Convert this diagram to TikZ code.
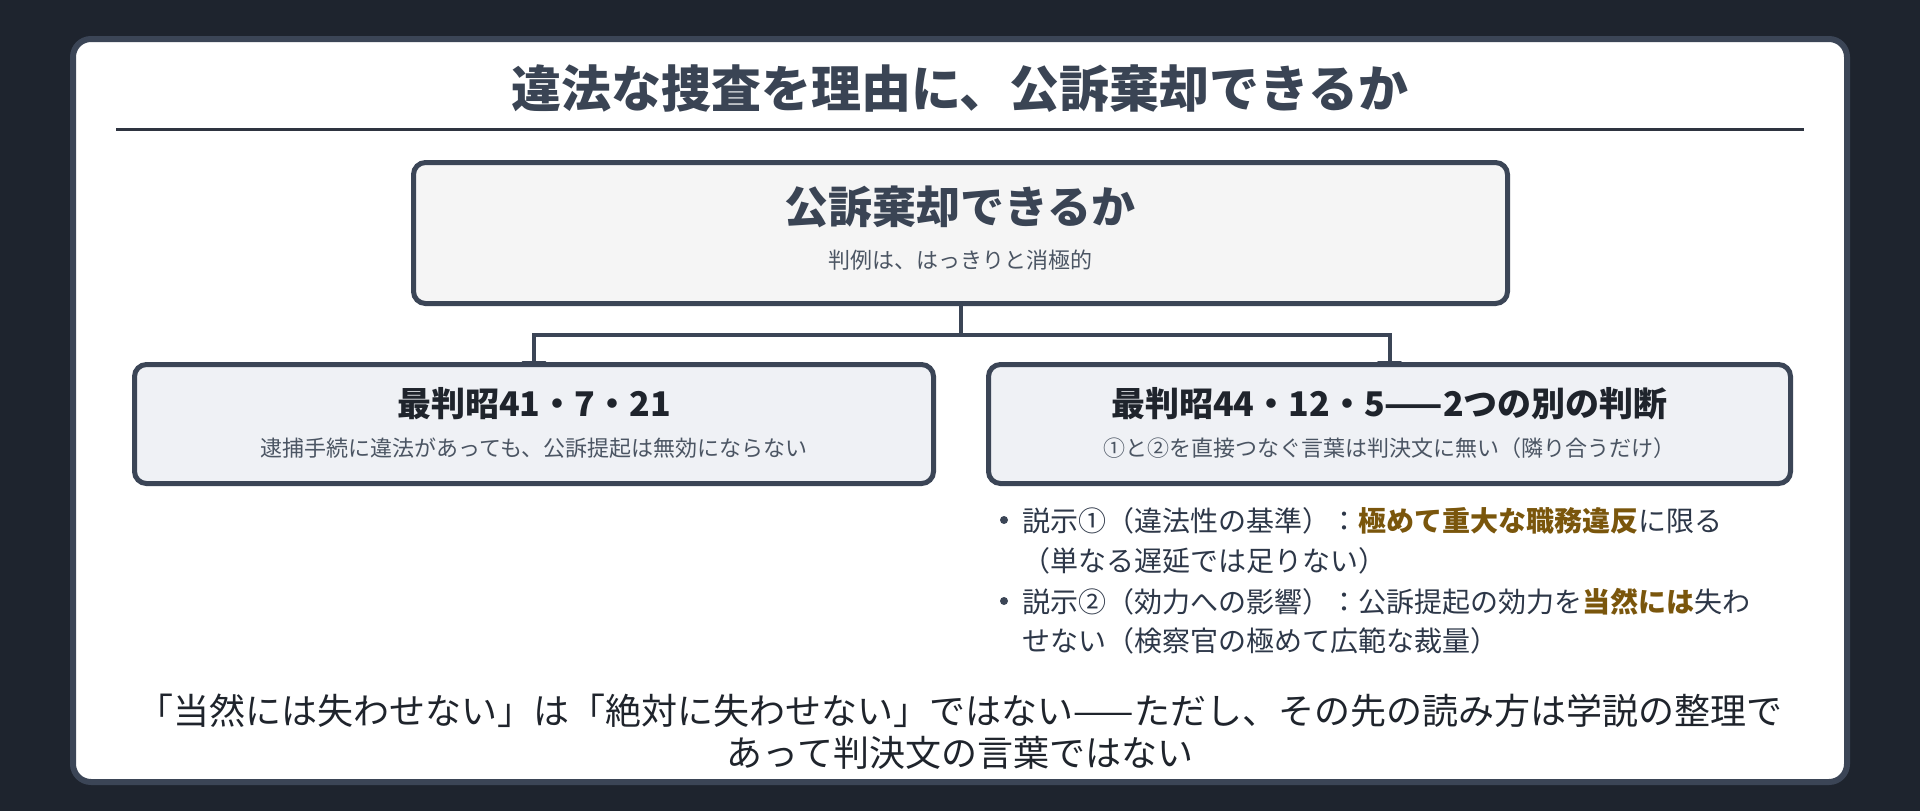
\documentclass[tikz,border=0pt]{standalone}
\usepackage{fontspec}
\setmainfont{Noto Sans CJK JP}
\usetikzlibrary{arrows.meta}
\pgfdeclarelayer{backlayer}
\pgfdeclarelayer{connlayer}
\pgfsetlayers{backlayer,connlayer,main}
\definecolor{pagebg}{HTML}{1E242E}
\definecolor{edge}{HTML}{3B4556}
\definecolor{rulec}{HTML}{2E3440}
\definecolor{titlec}{HTML}{3A4454}
\definecolor{darkc}{HTML}{1F242C}
\definecolor{subc}{HTML}{4B5563}
\definecolor{bodyc}{HTML}{2D3748}
\definecolor{hlc}{HTML}{7A560C}
\definecolor{mainfill}{HTML}{F5F5F5}
\definecolor{childfill}{HTML}{EFF1F5}
\newcommand{\fs}[1]{\fontsize{#1}{#1}\selectfont}
\newcommand{\hl}[1]{{\bfseries\color{hlc}#1}}
\begin{document}
\begin{tikzpicture}[x=1pt,y=-1pt,
  box/.style={draw=edge, line width=5pt, rounded corners=12pt, inner sep=0pt},
  conn/.style={draw=edge, line width=4pt, -{Triangle[width=24pt,length=12pt]}, shorten >=-11pt},
  txt/.style={inner sep=0pt, anchor=base},
  bodytxt/.style={inner sep=0pt, anchor=base west, text=bodyc, font=\fs{28}},
  bottomtxt/.style={inner sep=0pt, anchor=base, text=darkc, font=\fs{36}},
  bulletdot/.style={circle, fill=edge, minimum size=8pt, inner sep=0pt}]
\begin{pgfonlayer}{backlayer}
\fill[pagebg] (0,0) rectangle (1920,811);
\draw[edge, line width=6pt, fill=white, rounded corners=18pt] (73,39) rectangle (1847,782);
\end{pgfonlayer}
\useasboundingbox (0,0) rectangle (1920,811);
\node[txt, text=titlec, font=\fs{50}\bfseries] (title) at (960,107) {違法な捜査を理由に、公訴棄却できるか};
\draw[rulec, line width=3pt] (116,129.5) -- (1804,129.5);
% boxes
\node[box, fill=mainfill, minimum width=1094pt, minimum height=141pt] (mainbox) at (960.5,233) {};
\node[box, fill=childfill, minimum width=799pt, minimum height=119pt] (left) at (534,424) {};
\node[box, fill=childfill, minimum width=802pt, minimum height=119pt] (right) at (1389.5,424) {};
\coordinate (j) at (960.5,335);
\begin{pgfonlayer}{connlayer}
\draw[conn] (mainbox.south) -- (j) -| (left.north);
\draw[conn] (j) -| (right.north);
\end{pgfonlayer}
% main texts
\node[txt, text=titlec, font=\fs{44}\bfseries] (maintitle) at (960,223) {公訴棄却できるか};
\node[txt, text=subc, font=\fs{22}] (mainsub) at (960,268) {判例は、はっきりと消極的};
\node[txt, text=darkc, font=\fs{34}\bfseries] (lefttitle) at (534,416) {最判昭41・7・21};
\node[txt, text=subc, font=\fs{22}] (leftsub) at (534,456) {逮捕手続に違法があっても、公訴提起は無効にならない};
\node[txt, text=darkc, font=\fs{34}\bfseries] (righttitle) at (1389.5,416) {最判昭44・12・5——2つの別の判断};
\node[txt, text=subc, font=\fs{22}] (rightsub) at (1389.5,456) {①と②を直接つなぐ言葉は判決文に無い（隣り合うだけ）};
% bullets
\node[bulletdot] (b1) at (1004,520) {};
\node[bodytxt] (b1a) at (1022,531) {説示①（違法性の基準）：\hl{極めて重大な職務違反}に限る};
\node[bodytxt] (b1b) at (1022,571) {（単なる遅延では足りない）};
\node[bulletdot] (b2) at (1004,601) {};
\node[bodytxt] (b2a) at (1022,612) {説示②（効力への影響）：公訴提起の効力を\hl{当然には}失わ};
\node[bodytxt] (b2b) at (1022,651) {せない（検察官の極めて広範な裁量）};
% bottom
\node[bottomtxt] (bot1) at (960,724) {「当然には失わせない」は「絶対に失わせない」ではない——ただし、その先の読み方は学説の整理で};
\node[bottomtxt] (bot2) at (960,766) {あって判決文の言葉ではない};
\end{tikzpicture}
\end{document}
